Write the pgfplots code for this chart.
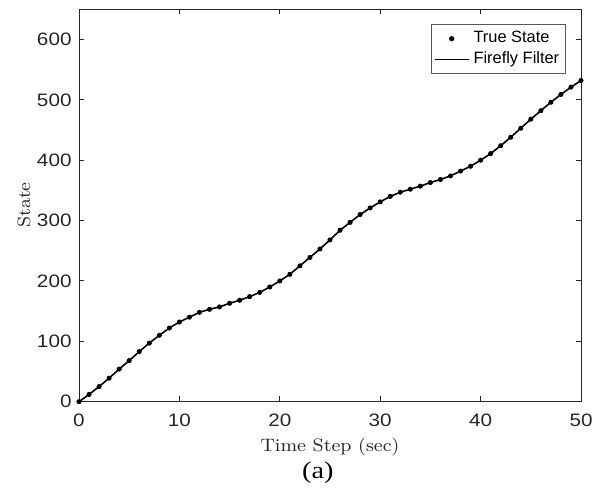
\documentclass[border=0pt]{standalone}
\usepackage{fontspec}
\usepackage{pgfplots}
\pgfplotsset{compat=1.18}
\newfontfamily\arialf{Liberation Sans}
\newfontfamily\arialw[FakeStretch=1.15]{Liberation Sans}
\newfontfamily\timesf[FakeStretch=1.18]{Liberation Serif}
\newfontfamily\lmw[FakeStretch=1.08]{Latin Modern Roman}
\definecolor{axgray}{HTML}{262626}

\begin{document}
\begin{tikzpicture}
\begin{axis}[
  name=ax,
  scale only axis,
  width=251pt, height=196.2pt,
  xmin=0, xmax=50, ymin=0, ymax=650,
  xtick={0,10,20,30,40,50},
  ytick={0,100,200,300,400,500,600},
  tick align=inside,
  major tick length=2.6pt,
  axis line style={axgray, line width=0.5pt},
  tick style={axgray, line width=0.5pt},
  /pgf/number format/assume math mode=true,
  tick label style={font=\arialw\fontsize{9}{10}\selectfont, text=axgray},
  xticklabel style={yshift=-2.4pt},
  yticklabel style={xshift=-0.2pt},
  xlabel={Time Step (sec)},
  ylabel={State},
  label style={font=\lmw\fontsize{9}{10}\selectfont, text=axgray},
  xlabel style={at={(axis description cs:0.5,-0.128)}, anchor=base},
  ylabel style={at={(axis description cs:-0.0976,0.501)}, anchor=base, rotate=0},
  legend style={
    at={(0.9695,0.9625)}, anchor=north east,
    font=\arialf\fontsize{8.2}{9}\selectfont,
    draw=black!65, line width=0.5pt,
    inner xsep=1pt, inner ysep=1.5pt,
    row sep=-1pt,
  },
  legend cell align=left,
  clip=false,
]
\addplot[only marks, mark=*, mark size=1.05pt, black] coordinates {
  (0,0) (1,12) (2,25) (3,39) (4,54) (5,68) (6,83) (7,97) (8,110) (9,122)
  (10,132) (11,140) (12,148) (13,153) (14,157) (15,163) (16,168) (17,174)
  (18,181) (19,190) (20,200) (21,211) (22,225) (23,239) (24,253) (25,268)
  (26,284) (27,297) (28,310) (29,321) (30,331) (31,340) (32,347) (33,352)
  (34,357) (35,363) (36,368) (37,374) (38,382) (39,390) (40,400) (41,411)
  (42,424) (43,438) (44,453) (45,468) (46,482) (47,496) (48,509) (49,521)
  (50,532)
};
\addlegendentry{True State}
\addplot[black, line width=0.8pt, mark=none] coordinates {
  (0,0) (1,12) (2,25) (3,39) (4,54) (5,68) (6,83) (7,97) (8,110) (9,122)
  (10,132) (11,140) (12,148) (13,153) (14,157) (15,163) (16,168) (17,174)
  (18,181) (19,190) (20,200) (21,211) (22,225) (23,239) (24,253) (25,268)
  (26,284) (27,297) (28,310) (29,321) (30,331) (31,340) (32,347) (33,352)
  (34,357) (35,363) (36,368) (37,374) (38,382) (39,390) (40,400) (41,411)
  (42,424) (43,438) (44,453) (45,468) (46,482) (47,496) (48,509) (49,521)
  (50,532)
};
\addlegendentry{Firefly Filter}
\node[font=\timesf\fontsize{12}{14}\selectfont, anchor=base]
  at (axis description cs:0.476,-0.197) {(a)};
\end{axis}
\pgfresetboundingbox
\path[use as bounding box] ([shift={(-39.5pt,-45.15pt)}]ax.south west)
  rectangle ([shift={(10.5pt,4.65pt)}]ax.north east);
\end{tikzpicture}
\end{document}
